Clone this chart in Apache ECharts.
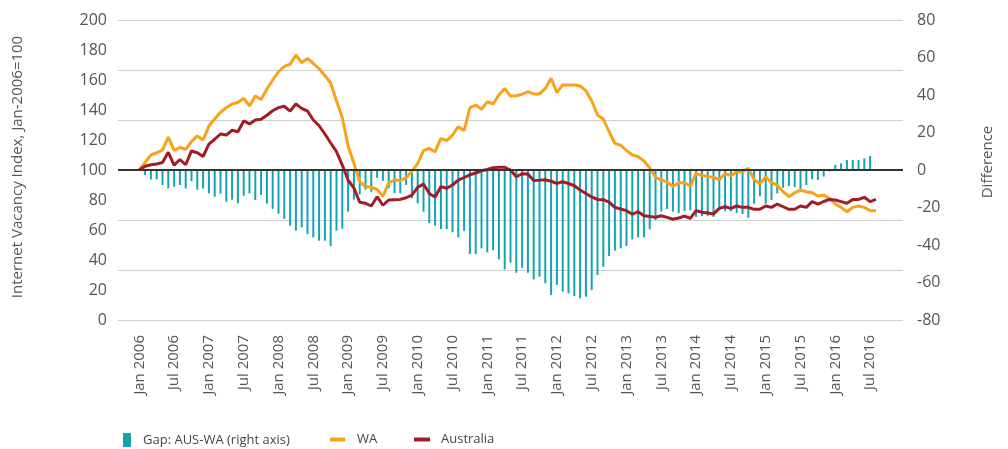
<!DOCTYPE html>
<html>
<head>
<meta charset="utf-8">
<script src="https://cdn.jsdelivr.net/npm/echarts@6/dist/echarts.min.js"></script>
<style>
html,body{margin:0;padding:0;background:#fff;}
#chart{width:1008px;height:449px;}
</style>
</head>
<body>
<div id="chart"></div>
<script>
// Monthly series, Jan 2006 (index 0) to Aug 2016 (index 127)
const tickLabels = ['Jan 2006','Jul 2006','Jan 2007','Jul 2007','Jan 2008','Jul 2008','Jan 2009','Jul 2009',
  'Jan 2010','Jul 2010','Jan 2011','Jul 2011','Jan 2012','Jul 2012','Jan 2013','Jul 2013',
  'Jan 2014','Jul 2014','Jan 2015','Jul 2015','Jan 2016','Jul 2016'];
const tickMonths = [0,6,12,18,24,30,36,42,48,54,60,66,72,78,84,90,96,102,108,114,120,126];

const waIndex = [
  100,105,110,111.5,113.3,122,113,115,113.8,119,
  122.7,120,129.3,134,138.5,141.5,144,145,147.8,142.7,
  149.3,147,154,160,165.5,169,170.5,176.7,171.5,174.4,
  171,167.5,163,158,146,135,116,104.5,92,89,
  88.5,87,82.5,91.5,93.3,93,95,99,104.4,112.9,
  114.4,112.2,121.1,119.6,123.3,128.9,126.2,141.5,143.3,140.4,
  145.6,144,150,154.4,149.3,149.5,150.5,152.2,150.7,150.7,
  154.4,161.1,151.6,156.7,156.7,156.7,156,152.9,146,136.7,
  134,125.5,117.8,116.5,113,110,108.9,106,101.5,95,
  93.5,92,89,91.5,91.5,89.3,97.8,96.3,95.7,95,
  93.8,97.5,96.2,98.9,98.9,101.1,93.8,90.7,95.5,91.5,
  90,85.5,82.2,84.9,86.5,85.5,84.9,82.7,83.3,81.1,
  77.3,75.1,72.2,75.1,76,75.1,72.9,72.9
];
const ausIndex = [
  100,102.5,103.5,104,105,111.8,103.3,107,103.5,112.7,
  111.5,109,117.3,120.5,124,123.3,126.5,125.5,132.7,130.7,
  133.3,133.8,136.5,139.5,141.6,142.5,139.3,144,141.1,139.3,
  133.3,129.5,124,118,112.2,103.3,93.3,88,78.5,77.8,
  76,82.2,76.5,80,80.2,80.4,81.5,83.3,88.4,90.7,
  84.4,82,88.9,87.8,90,93.3,95,96.8,98,99.5,
  100.3,101.5,101.8,101.8,100,95.5,97.5,97.3,93,93.2,
  93.5,92.5,91.1,92.2,91,89.5,86.7,84.3,82,80.4,
  80.2,78.5,75.1,74,72.9,70.5,72.2,69.5,69,68.5,
  69.5,68.4,67.2,68,69.3,67.8,72.9,71.8,71.3,70.7,
  74.4,75.5,74.4,76,75.1,75.1,73.8,73.8,76,75.1,
  77.3,75.5,73.8,73.8,76,75.1,78.9,77.3,79,80.4,
  80,78.9,77.8,80.4,80.4,81.8,78.9,80.4
];
const gapAusWa = [
  0,-2.7,-5,-5,-8,-9.8,-8.9,-8,-9.8,-5.9,
  -10.5,-9.8,-12.4,-14.2,-12.6,-16.9,-15.8,-17.8,-13.7,-12.4,
  -16,-13.3,-17.9,-20.7,-23.3,-26.1,-29.7,-32.4,-30.6,-34.1,
  -35.9,-37.7,-37.7,-40.5,-32.4,-31.3,-22.2,-15.8,-13,-10.5,
  -11.6,-4.2,-5.8,-9.8,-12.4,-12.4,-8,-15.1,-17.8,-22.2,
  -28.4,-29.7,-31.5,-31.5,-33.2,-35.9,-32.4,-44.8,-44.8,-41.8,
  -43.9,-42.7,-47.6,-53,-49.4,-54.8,-52.1,-54.8,-58.3,-56.9,
  -60.4,-66.7,-61.3,-64.9,-65.8,-67.2,-68.4,-67.6,-64,-56,
  -51.6,-45.9,-43,-41.8,-40.5,-37,-35.9,-35.9,-31.6,-26.7,
  -22.2,-20.8,-22.2,-23,-21.8,-21.5,-25,-24.5,-24.4,-25,
  -21,-22,-22,-22.9,-23.5,-25.5,-18,-14,-18,-16,
  -12.5,-9.5,-8.5,-9,-10,-8,-5,-5.3,-3.5,-0.8,
  2.7,3.6,5.3,5.3,5.3,6.2,7.5,null
];

const leftTicks = {min:0, max:200, interval:20};
const rightTicks = {min:-80, max:80, interval:20};

const C_BAR = '#14A3B1', C_WA = '#F9A11B', C_AUS = '#A21C26';
const FONT = '"Open Sans", "Noto Sans", sans-serif';

const pairs = arr => arr.map((v,i) => [i, v]);

const chart = echarts.init(document.getElementById('chart'), null, {renderer:'canvas'});
chart.setOption({
  animation:false,
  backgroundColor:'#fff',
  grid:{left:118, right:105, top:20, bottom:129, containLabel:false},
  xAxis:{
    type:'value', min:-3.67, max:131.67,
    splitLine:{show:false}, axisLine:{show:false}, axisTick:{show:false},
    axisLabel:{
      customValues: tickMonths,
      rotate:90, margin:15, fontSize:15, color:'#555', fontFamily:FONT,
      formatter: v => { const k = tickMonths.indexOf(Math.round(v)); return k >= 0 ? tickLabels[k] : ''; }
    }
  },
  yAxis:[
    {type:'value', position:'left', min:leftTicks.min, max:leftTicks.max, interval:leftTicks.interval,
     splitLine:{show:false}, axisLine:{show:false}, axisTick:{show:false},
     axisLabel:{fontSize:16, color:'#555', margin:11, fontFamily:FONT}},
    {type:'value', position:'right', min:rightTicks.min, max:rightTicks.max, interval:rightTicks.interval,
     splitLine:{show:false}, axisLine:{show:false}, axisTick:{show:false},
     axisLabel:{fontSize:16, color:'#555', margin:14, fontFamily:FONT}},
    {type:'value', position:'left', min:0, max:6, interval:1,
     axisLabel:{show:false}, axisLine:{show:false}, axisTick:{show:false},
     splitLine:{show:true, lineStyle:{color:'#cfcfcf', width:1}}}
  ],
  legend:[
    {left:118, top:428, itemWidth:8, itemHeight:14, icon:'rect', data:['Gap: AUS-WA (right axis)'],
     textStyle:{fontSize:13, color:'#444', fontFamily:FONT, padding:[0,0,0,7]}},
    {left:325, top:428, itemWidth:15, itemHeight:4, icon:'rect', data:['WA'],
     textStyle:{fontSize:13, color:'#444', fontFamily:FONT, padding:[0,0,0,7]}},
    {left:409, top:428, itemWidth:16, itemHeight:4, icon:'rect', data:['Australia'],
     textStyle:{fontSize:13, color:'#444', fontFamily:FONT, padding:[0,0,0,6]}}
  ],
  graphic:[
    {type:'text', x:18, y:167, rotation:Math.PI/2,
     style:{text:'Internet Vacancy Index, Jan-2006=100', fontSize:15, fontFamily:FONT, fill:'#555', align:'center', verticalAlign:'middle'}},
    {type:'text', x:988, y:162, rotation:Math.PI/2,
     style:{text:'Difference', fontSize:15, fontFamily:FONT, fill:'#555', align:'center', verticalAlign:'middle'}}
  ],
  series:[
    {name:'Gap: AUS-WA (right axis)', type:'bar', xAxisIndex:0, yAxisIndex:1, barWidth:2,
     itemStyle:{color:C_BAR}, data:pairs(gapAusWa), z:2,
     markLine:{silent:true, symbol:'none', label:{show:false}, lineStyle:{color:'#333', width:2, type:'solid'},
       data:[{yAxis:0}]}},
    {name:'WA', type:'line', xAxisIndex:0, yAxisIndex:0, data:pairs(waIndex), showSymbol:false, symbol:'none',
     lineStyle:{color:C_WA, width:3}, itemStyle:{color:C_WA}, z:3},
    {name:'Australia', type:'line', xAxisIndex:0, yAxisIndex:0, data:pairs(ausIndex), showSymbol:false, symbol:'none',
     lineStyle:{color:C_AUS, width:3}, itemStyle:{color:C_AUS}, z:4}
  ]
});
</script>
</body>
</html>
